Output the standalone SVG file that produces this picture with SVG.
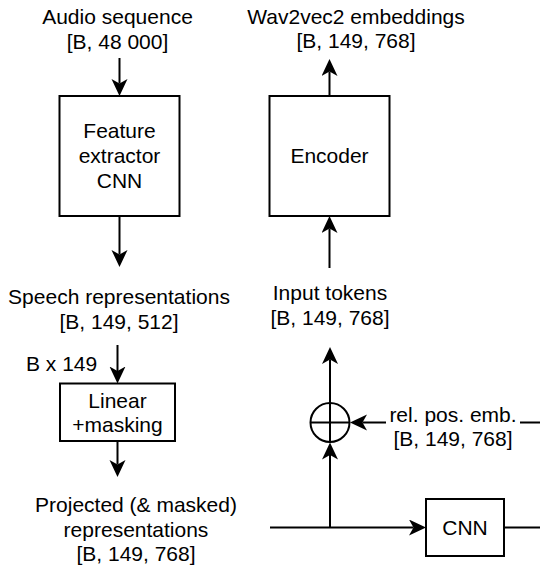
<svg xmlns="http://www.w3.org/2000/svg" width="540" height="565" viewBox="0 0 540 565">
<style>
text{font-family:"Liberation Sans",Arial,Helvetica,sans-serif;font-size:21px;fill:#000;text-anchor:middle}
.box{fill:#fff;stroke:#000;stroke-width:2}
.ln{fill:none;stroke:#000;stroke-width:2}
.ar{fill:none;stroke:#000;stroke-width:2;marker-end:url(#ah)}
</style>
<defs>
<marker id="ah" markerUnits="userSpaceOnUse" markerWidth="18" markerHeight="18" refX="4.5" refY="8" orient="auto" viewBox="0 0 18 18">
<path d="M0,0 L17,8 L0,16 L4.5,8 Z" fill="#000"/>
</marker>
</defs>
<rect width="540" height="565" fill="#fff"/>
<g id="connectors">
<line class="ar" x1="119.5" y1="58" x2="119.5" y2="83.5"/>
<line class="ar" x1="119.5" y1="216" x2="119.5" y2="254.5"/>
<line class="ar" x1="117.5" y1="345" x2="117.5" y2="371"/>
<line class="ar" x1="117.5" y1="441" x2="117.5" y2="464.5"/>
<line class="ar" x1="329.5" y1="96" x2="329.5" y2="71.5"/>
<line class="ar" x1="329.5" y1="268" x2="329.5" y2="228.5"/>
<line class="ar" x1="330" y1="403" x2="330" y2="359.5"/>
<line class="ar" x1="330" y1="527.5" x2="330" y2="455"/>
<line class="ar" x1="270" y1="527.5" x2="413.5" y2="527.5"/>
<line class="ln" x1="504" y1="527.5" x2="542" y2="527.5"/>
<line class="ar" x1="542" y1="422.5" x2="362.5" y2="422.5"/>
<g id="rel-pos-label">
<rect x="386" y="408" width="134" height="46" fill="#fff"/>
<text x="453" y="422">rel. pos. emb.</text>
<text x="453" y="446">[B, 149, 768]</text>
</g>
</g>
<g id="audio-label">
<text x="117.5" y="24">Audio sequence</text>
<text x="117.5" y="49">[B, 48 000]</text>
</g>
<g id="feature-extractor">
<rect class="box" x="59.5" y="96" width="120" height="120"/>
<text x="119.5" y="138">Feature</text>
<text x="119.5" y="163">extractor</text>
<text x="119.5" y="188">CNN</text>
</g>
<g id="speech-label">
<text x="119" y="304">Speech representations</text>
<text x="119" y="329">[B, 149, 512]</text>
</g>
<g id="bx149-label">
<text x="26" y="371" style="text-anchor:start">B x 149</text>
</g>
<g id="linear">
<rect class="box" x="60" y="383.5" width="115" height="57.5"/>
<text x="117.5" y="407.5">Linear</text>
<text x="117.5" y="431.5">+masking</text>
</g>
<g id="projected-label">
<text x="136" y="512">Projected (&amp; masked)</text>
<text x="136" y="536.5">representations</text>
<text x="136" y="561">[B, 149, 768]</text>
</g>
<g id="wav2vec-label">
<text x="356" y="23.5">Wav2vec2 embeddings</text>
<text x="356" y="47.5">[B, 149, 768]</text>
</g>
<g id="encoder">
<rect class="box" x="269.5" y="96" width="120" height="120"/>
<text x="329.5" y="163">Encoder</text>
</g>
<g id="input-label">
<text x="330" y="300">Input tokens</text>
<text x="330" y="325">[B, 149, 768]</text>
</g>
<g id="sum">
<circle class="box" cx="330" cy="422.5" r="19.5"/>
<line class="ln" x1="310.5" y1="422.5" x2="349.5" y2="422.5"/>
<line class="ln" x1="330" y1="403" x2="330" y2="442"/>
</g>
<g id="cnn">
<rect class="box" x="426" y="499" width="78" height="57"/>
<text x="465" y="535">CNN</text>
</g>
</svg>
